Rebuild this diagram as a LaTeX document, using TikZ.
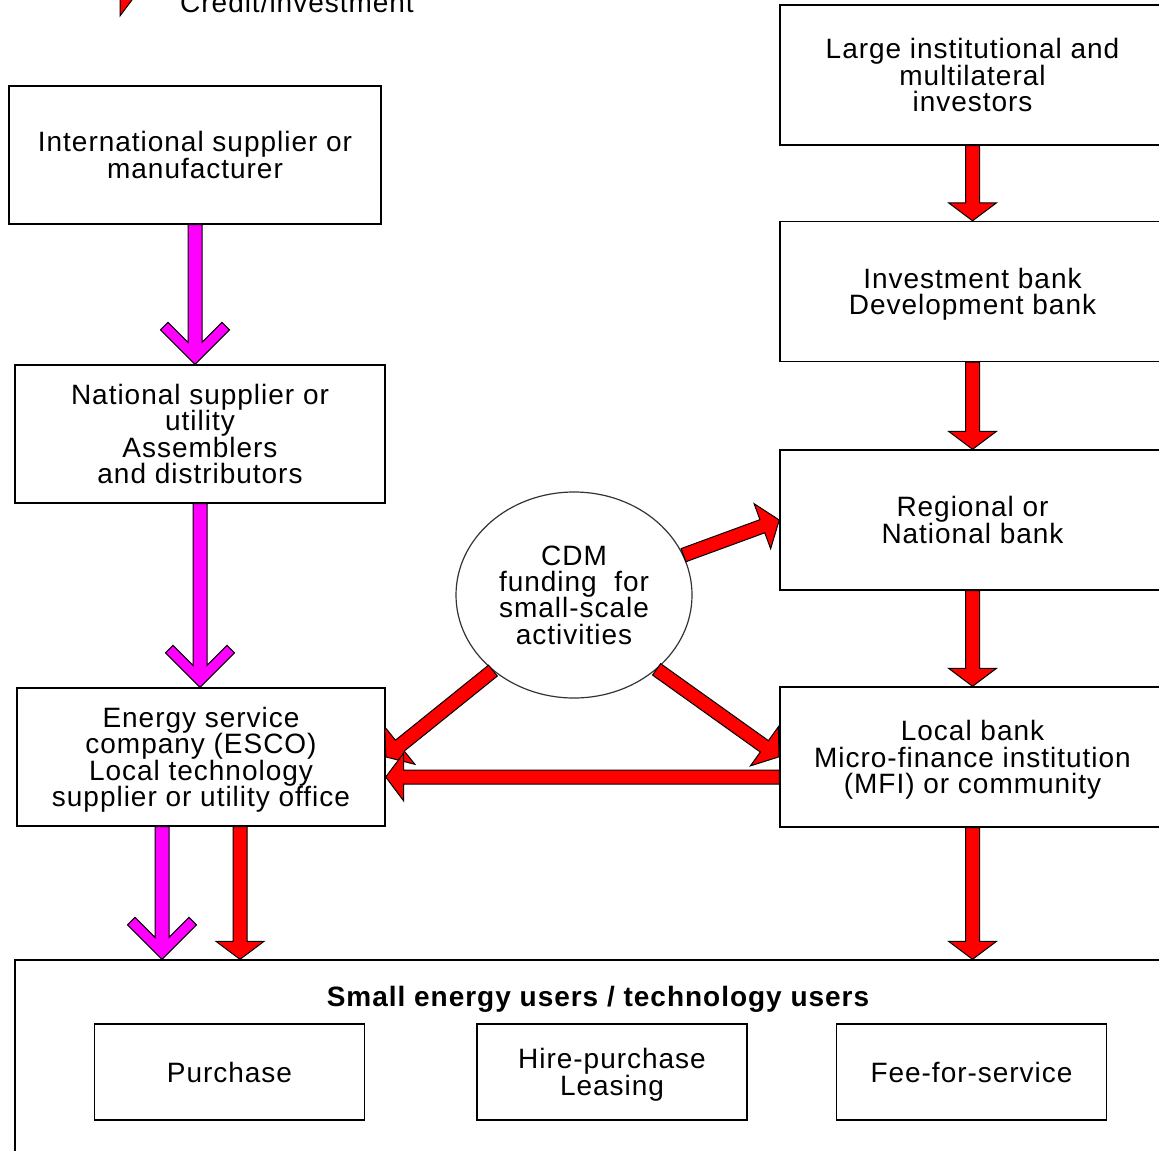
\documentclass[tikz,border=0pt]{standalone}
\usepackage{fontspec}
\setmainfont{Liberation Sans}[LetterSpace=3.5]
\usetikzlibrary{calc,shapes.geometric}
\definecolor{supplypink}{RGB}{255,0,255}
\definecolor{creditred}{RGB}{255,0,0}
\tikzset{
  block/.style={draw=black,line width=0.5pt,line join=miter,
    to path={let \p1=(\tikztostart),\p2=(\tikztotarget),
      \n1={atan2(\y2-\y1,\x2-\x1)},\n2={veclen(\x2-\x1,\y2-\y1)} in
      {[shift={(\p1)},rotate=\n1] #1}}},
  credit/.style={fill=creditred,block={(0pt,-3.5pt) -- ({\n2-9pt},-3.5pt)
      -- ({\n2-9pt},-12pt) -- (\n2,0pt) -- ({\n2-9pt},12pt)
      -- ({\n2-9pt},3.5pt) -- (0pt,3.5pt) -- cycle}},
  supply/.style={fill=supplypink,block={(0pt,-3.5pt) -- ({\n2-11pt},-3.5pt)
      -- ({\n2-21pt},-13.5pt) -- ({\n2-17.25pt},-17.25pt) -- (\n2,0pt)
      -- ({\n2-17.25pt},17.25pt) -- ({\n2-21pt},13.5pt)
      -- ({\n2-11pt},3.5pt) -- (0pt,3.5pt) -- cycle}},
}
\begin{document}
\begin{tikzpicture}[x=0.5pt,y=-0.5pt,
  txt/.style={font=\fontsize{14}{13.2}\selectfont},
  box/.style={txt,draw,line width=0.7pt,align=center,inner sep=0pt,text depth=0pt},
  bank/.style={box,minimum width=192.5pt,minimum height=70pt},
  deal/.style={box,minimum width=135pt,minimum height=48pt}]
\useasboundingbox (0,0) rectangle (1159,1150);
% key
\coordinate (key-a) at (15,-8);
\coordinate (key-b) at (138,-8);
\draw[credit] (key-a) to (key-b);
\node[txt,anchor=base] (key) at (297,13) {Credit/investment};
% supply chain
\node[box,minimum width=186pt,minimum height=69pt] (intl) at (195,155)
  {International supplier or\\manufacturer};
\node[box,minimum width=185pt,minimum height=69pt] (natl) at (200,434)
  {National supplier or\\utility\\Assemblers\\and distributors};
\node[box,minimum width=184pt,minimum height=69pt] (esco) at (201,757)
  {Energy service\\company (ESCO)\\Local technology\\supplier or utility office};
% finance chain
\node[bank] (large) at (972.5,75) {Large institutional and\\multilateral\\investors};
\node[bank] (invest) at (972.5,291.5) {Investment bank\\Development bank};
\node[bank] (regional) at (972.5,520) {Regional or\\National bank};
\node[bank] (local) at (972.5,757)
  {Local bank\\Micro-finance institution\\(MFI) or community};
\node[txt,ellipse,draw=black!80,line width=0.6pt,inner sep=0pt,align=center,
  minimum width=118pt,minimum height=103pt] (cdm) at (574,595)
  {CDM\\funding\ \ for\\small-scale\\activities};
% users
\node[draw,line width=0.7pt,minimum width=575pt,minimum height=102.5pt]
  (users) at (590,1062.5) {};
\node[font=\fontsize{14}{18}\selectfont\bfseries] (utitle) at (598,999)
  {Small energy users / technology users};
\node[deal] (purchase) at (229.5,1072) {Purchase};
\node[deal] (hire) at (612,1072) {Hire-purchase\\Leasing};
\node[deal] (fee) at (971.5,1072) {Fee-for-service};
% arrows
\draw[supply] (intl.south) to (intl.south |- natl.north);
\draw[supply] (natl.south) to (natl.south |- esco.north);
\draw[supply] ([xshift=-19.5pt]esco.south) to ([xshift=-19.5pt]esco.south |- users.north);
\draw[credit] ([xshift=19.5pt]esco.south) to ([xshift=19.5pt]esco.south |- users.north);
\draw[credit] (large.south) to (invest.north);
\draw[credit] (invest.south) to (regional.north);
\draw[credit] (regional.south) to (local.north);
\draw[credit] (local.south) to (local.south |- users.north);
\draw[credit] (cdm.20) to (regional.west);
\draw[credit] (cdm.223) to (esco.east);
\draw[credit] (cdm.318) to (local.west);
\draw[credit] ([yshift=-10pt]local.west) to ([yshift=-10pt]esco.east);
\end{tikzpicture}
\end{document}
